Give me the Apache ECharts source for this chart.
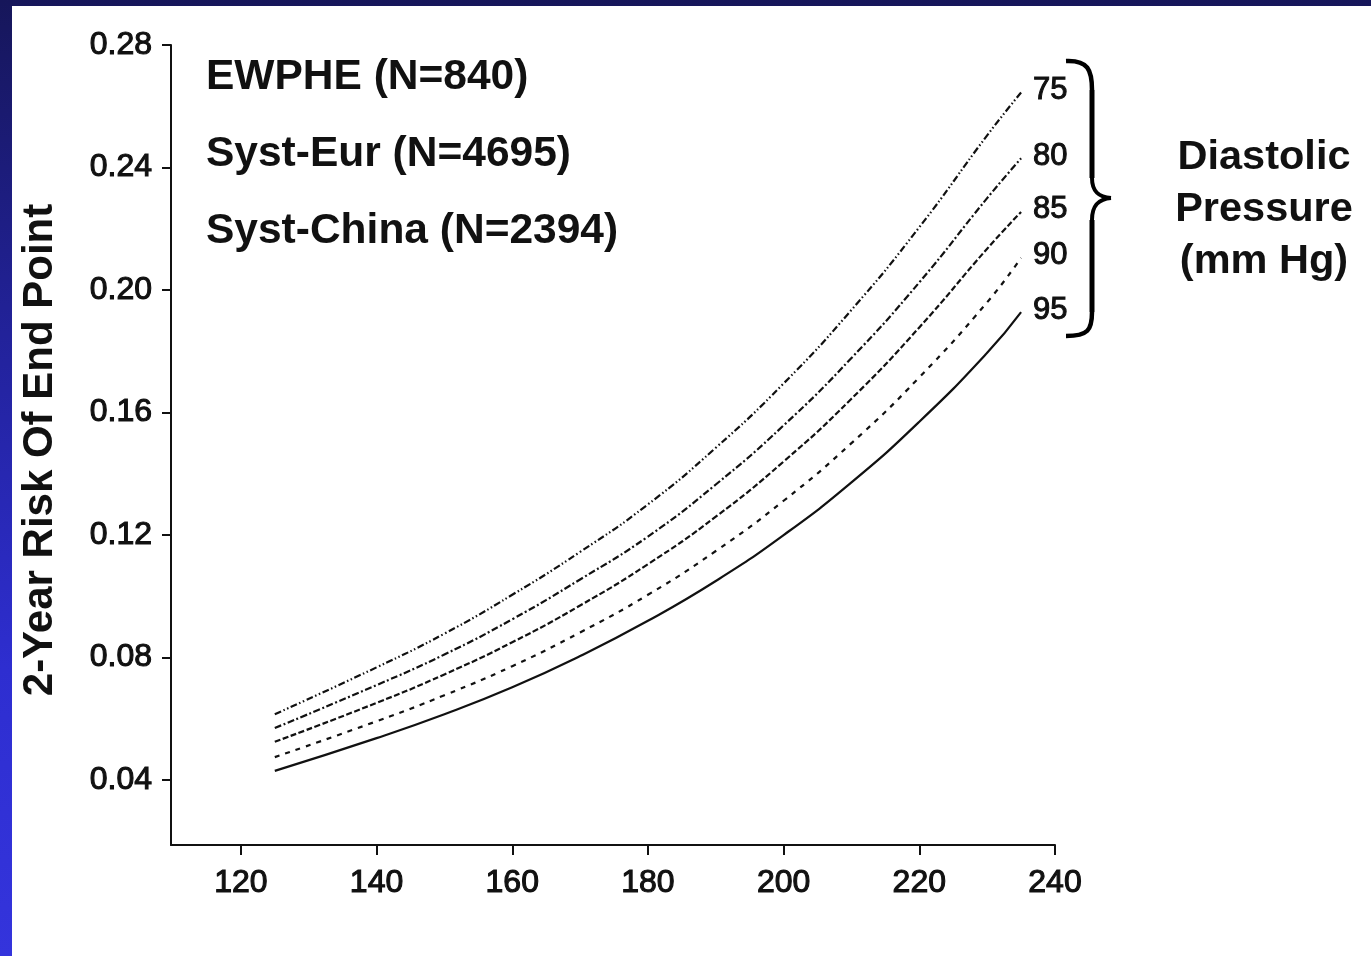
<!DOCTYPE html>
<html>
<head>
<meta charset="utf-8">
<script src="https://cdn.jsdelivr.net/npm/echarts@6/dist/echarts.min.js"></script>
<style>
  html, body { margin: 0; padding: 0; width: 1371px; height: 956px; overflow: hidden; }
  body { background: linear-gradient(180deg, #16165a 0%, #22229a 35%, #2e2ed0 70%, #3434dc 100%); position: relative; }
  #panel { position: absolute; left: 12px; top: 6px; right: 0; bottom: 0; background: #ffffff; }
  #chart { position: absolute; left: 0; top: 0; width: 1371px; height: 956px; }
</style>
</head>
<body>
<div id="panel"></div>
<div id="chart"></div>
<script>
// Systolic pressure (mm Hg) at which each risk curve is sampled
const systolic = [125, 140, 150, 160, 170, 180, 190, 200, 210, 220, 230, 235];

// 2-year risk of end point for each diastolic pressure level
const risk75 = [0.0615, 0.0768, 0.0878, 0.1005, 0.1145, 0.1300, 0.1485, 0.1695, 0.1935, 0.2205, 0.2505, 0.2645];
const risk80 = [0.0570, 0.0710, 0.0810, 0.0925, 0.1055, 0.1195, 0.1365, 0.1558, 0.1778, 0.2025, 0.2300, 0.2430];
const risk85 = [0.0525, 0.0652, 0.0745, 0.0850, 0.0970, 0.1105, 0.1260, 0.1440, 0.1645, 0.1878, 0.2135, 0.2255];
const risk90 = [0.0475, 0.0592, 0.0677, 0.0772, 0.0882, 0.1005, 0.1148, 0.1312, 0.1500, 0.1715, 0.1960, 0.2105];
const risk95 = [0.0430, 0.0537, 0.0615, 0.0703, 0.0805, 0.0920, 0.1050, 0.1200, 0.1372, 0.1570, 0.1795, 0.1928];

const diastolicLevels = ['75', '80', '85', '90', '95'];
const riskByLevel = [risk75, risk80, risk85, risk90, risk95];

// Tick values
const xTicks = [120, 140, 160, 180, 200, 220, 240];
const yTicks = [0.04, 0.08, 0.12, 0.16, 0.20, 0.24, 0.28];

// Trial labels and caption
const trials = ['EWPHE (N=840)', 'Syst-Eur (N=4695)', 'Syst-China (N=2394)'];
const yTitle = '2-Year Risk Of End Point';
const caption = 'Diastolic\nPressure\n(mm Hg)';

// Dash patterns: dash-dot-dot, dash-dot, dense dash, open dash, solid
const dashStyles = [[7, 2.5, 1.5, 2.5, 1.5, 2.5], [7, 2.5, 2, 2.5], [6, 2.5], [5, 6], 'solid'];

const font = 'Liberation Sans, Arial, sans-serif';

const chart = echarts.init(document.getElementById('chart'), null, { renderer: 'canvas' });

const series = diastolicLevels.map((lvl, i) => ({
  name: lvl,
  type: 'line',
  smooth: true,
  symbol: 'none',
  data: systolic.map((x, j) => [x, riskByLevel[i][j]]),
  lineStyle: { color: '#111', width: 2.2, type: dashStyles[i] },
  endLabel: {
    show: true,
    formatter: '{a}',
    distance: 12,
    offset: [0, -2],
    fontFamily: font,
    fontSize: 31,
    color: '#111',
    textBorderColor: '#111',
    textBorderWidth: 1
  },
  emphasis: { disabled: true },
  silent: true
}));

const tickLabelStyle = {
  fontFamily: font,
  fontSize: 32,
  color: '#111',
  textBorderColor: '#111',
  textBorderWidth: 1.1
};

chart.setOption({
  animation: false,
  backgroundColor: 'transparent',
  grid: { left: 171, top: 45, right: 316, bottom: 111, containLabel: false },
  xAxis: {
    type: 'value',
    min: 109.7,
    max: 240,
    axisLine: { show: true, lineStyle: { color: '#111', width: 2 } },
    axisTick: { show: true, length: 10, lineStyle: { color: '#111', width: 2 }, customValues: xTicks },
    axisLabel: Object.assign({ customValues: xTicks, margin: 22 }, tickLabelStyle),
    splitLine: { show: false }
  },
  yAxis: {
    type: 'value',
    min: 0.0188,
    max: 0.28,
    axisLine: { show: true, lineStyle: { color: '#111', width: 2 } },
    axisTick: { show: true, length: 9, lineStyle: { color: '#111', width: 2 }, customValues: yTicks },
    axisLabel: Object.assign({ customValues: yTicks, margin: 19, formatter: v => v.toFixed(2) }, tickLabelStyle),
    splitLine: { show: false }
  },
  series: series,
  graphic: [
    {
      type: 'text',
      x: 40, y: 450,
      rotation: Math.PI / 2,
      style: {
        text: yTitle, fontFamily: font, fontWeight: 'bold', fontSize: 42,
        fill: '#111', textAlign: 'center', textVerticalAlign: 'middle'
      }
    },
    ...trials.map((t, i) => ({
      type: 'text',
      x: 206, y: 77 + i * 77,
      style: {
        text: t, fontFamily: font, fontWeight: 'bold', fontSize: 42.5,
        fill: '#111', textAlign: 'left', textVerticalAlign: 'middle'
      }
    })),
    {
      type: 'text',
      x: 1264, y: 210,
      style: {
        text: caption, fontFamily: font, fontWeight: 'bold', fontSize: 41.5,
        lineHeight: 52, fill: '#111', textAlign: 'center', textVerticalAlign: 'middle'
      }
    },
    // curly brace grouping the diastolic labels
    {
      type: 'group',
      children: [
        { type: 'bezierCurve', shape: { x1: 1066, y1: 61, cpx1: 1088, cpy1: 60, cpx2: 1092, cpy2: 70, x2: 1092, y2: 90 }, style: { stroke: '#000', lineWidth: 4.5, fill: null } },
        { type: 'line', shape: { x1: 1092, y1: 90, x2: 1092, y2: 178 }, style: { stroke: '#000', lineWidth: 5 } },
        { type: 'bezierCurve', shape: { x1: 1092, y1: 178, cpx1: 1092, cpy1: 192, cpx2: 1099, cpy2: 197, x2: 1111, y2: 198 }, style: { stroke: '#000', lineWidth: 4, fill: null } },
        { type: 'bezierCurve', shape: { x1: 1111, y1: 198, cpx1: 1099, cpy1: 199, cpx2: 1092, cpy2: 205, x2: 1092, y2: 220 }, style: { stroke: '#000', lineWidth: 4, fill: null } },
        { type: 'line', shape: { x1: 1092, y1: 220, x2: 1092, y2: 312 }, style: { stroke: '#000', lineWidth: 5 } },
        { type: 'bezierCurve', shape: { x1: 1092, y1: 312, cpx1: 1092, cpy1: 330, cpx2: 1088, cpy2: 336, x2: 1066, y2: 336 }, style: { stroke: '#000', lineWidth: 4.5, fill: null } }
      ]
    }
  ]
});
</script>
</body>
</html>
